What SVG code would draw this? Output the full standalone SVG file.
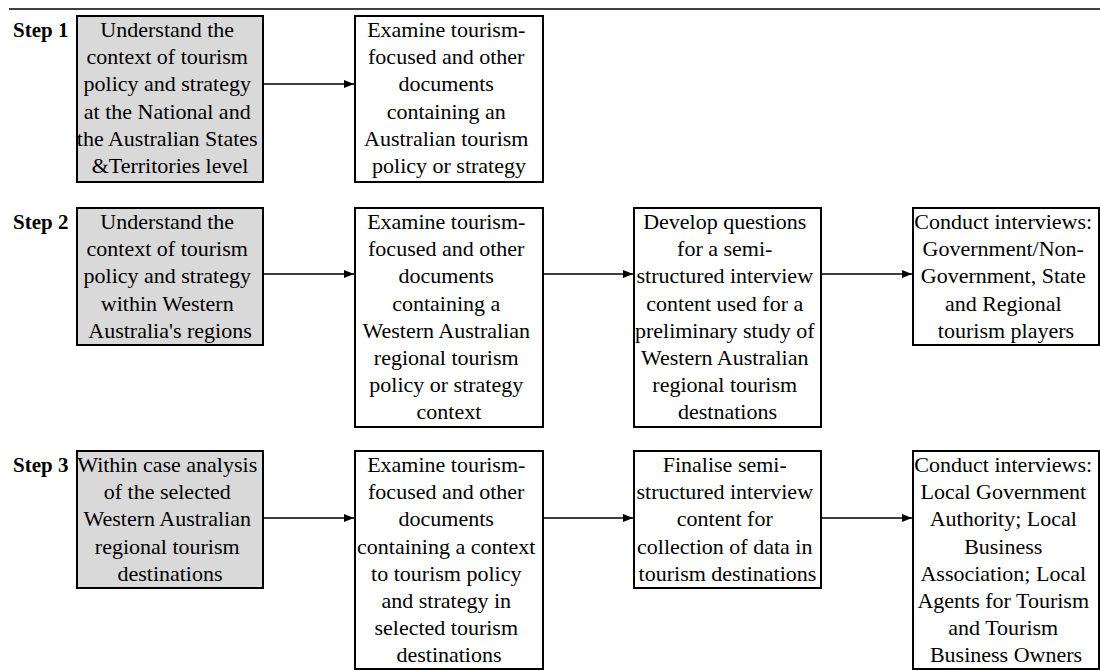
<svg xmlns="http://www.w3.org/2000/svg" width="1100" height="671" viewBox="0 0 1100 671">
  <style>
    .box { fill: #ffffff; stroke: #000000; stroke-width: 2; }
    .shade { fill: #d9d9d9; }
    .txt { font-family: "Liberation Serif", "Times New Roman", serif; font-size: 22px; fill: #000000; text-anchor: middle; }
    .step { font-family: "Liberation Serif", "Times New Roman", serif; font-size: 21px; font-weight: bold; fill: #000000; }
    .conn { stroke: #000000; stroke-width: 1.6; fill: none; marker-end: url(#arrow); }
  </style>
  <defs>
    <marker id="arrow" viewBox="0 0 10 8" refX="10" refY="4" markerWidth="10" markerHeight="8" markerUnits="userSpaceOnUse" orient="auto">
      <path d="M0,0 L10,4 L0,8 Z" fill="#000000"/>
    </marker>
  </defs>
  <rect width="1100" height="671" fill="#ffffff"/>

  <!-- top rule -->
  <line x1="9" y1="9" x2="1100" y2="9" stroke="#000000" stroke-width="1.6"/>

  <!-- step labels -->
  <text class="step" x="13" y="37">Step 1</text>
  <text class="step" x="13" y="229">Step 2</text>
  <text class="step" x="13" y="472">Step 3</text>

  <!-- connectors -->
  <g id="connectors">
    <line class="conn" x1="263" y1="84" x2="354" y2="84"/>
    <line class="conn" x1="263" y1="274" x2="354" y2="274"/>
    <line class="conn" x1="543" y1="274" x2="633" y2="274"/>
    <line class="conn" x1="821" y1="274" x2="912" y2="274"/>
    <line class="conn" x1="263" y1="518" x2="354" y2="518"/>
    <line class="conn" x1="543" y1="518" x2="633" y2="518"/>
    <line class="conn" x1="821" y1="518" x2="912" y2="518"/>
  </g>

  <!-- Step 1 -->
  <g id="s1-context">
    <rect class="box shade" x="77" y="16" width="186" height="166"/>
    <text class="txt" x="170" y="37">
      <tspan x="170">Understand the</tspan>
      <tspan x="170" dy="27.2">context of tourism</tspan>
      <tspan x="170" dy="27.2">policy and strategy</tspan>
      <tspan x="170" dy="27.2">at the National and</tspan>
      <tspan x="170" dy="27.2">the Australian States</tspan>
      <tspan x="170" dy="27.2">&amp;Territories level</tspan>
    </text>
  </g>
  <g id="s1-documents">
    <rect class="box" x="355" y="16" width="188" height="166"/>
    <text class="txt" x="449" y="37">
      <tspan x="449">Examine tourism-</tspan>
      <tspan x="449" dy="27.2">focused and other</tspan>
      <tspan x="449" dy="27.2">documents</tspan>
      <tspan x="449" dy="27.2">containing an</tspan>
      <tspan x="449" dy="27.2">Australian tourism</tspan>
      <tspan x="449" dy="27.2">policy or strategy</tspan>
    </text>
  </g>

  <!-- Step 2 -->
  <g id="s2-context">
    <rect class="box shade" x="77" y="208" width="186" height="137"/>
    <text class="txt" x="170" y="229">
      <tspan x="170">Understand the</tspan>
      <tspan x="170" dy="27.2">context of tourism</tspan>
      <tspan x="170" dy="27.2">policy and strategy</tspan>
      <tspan x="170" dy="27.2">within Western</tspan>
      <tspan x="170" dy="27.2">Australia's regions</tspan>
    </text>
  </g>
  <g id="s2-documents">
    <rect class="box" x="355" y="208" width="188" height="219"/>
    <text class="txt" x="449" y="229">
      <tspan x="449">Examine tourism-</tspan>
      <tspan x="449" dy="27.2">focused and other</tspan>
      <tspan x="449" dy="27.2">documents</tspan>
      <tspan x="449" dy="27.2">containing a</tspan>
      <tspan x="449" dy="27.2">Western Australian</tspan>
      <tspan x="449" dy="27.2">regional tourism</tspan>
      <tspan x="449" dy="27.2">policy or strategy</tspan>
      <tspan x="449" dy="27.2">context</tspan>
    </text>
  </g>
  <g id="s2-questions">
    <rect class="box" x="634" y="208" width="187" height="219"/>
    <text class="txt" x="727.5" y="229">
      <tspan x="727.5">Develop questions</tspan>
      <tspan x="727.5" dy="27.2">for a semi-</tspan>
      <tspan x="727.5" dy="27.2">structured interview</tspan>
      <tspan x="727.5" dy="27.2">content used for a</tspan>
      <tspan x="727.5" dy="27.2">preliminary study of</tspan>
      <tspan x="727.5" dy="27.2">Western Australian</tspan>
      <tspan x="727.5" dy="27.2">regional tourism</tspan>
      <tspan x="727.5" dy="27.2">destnations</tspan>
    </text>
  </g>
  <g id="s2-interviews">
    <rect class="box" x="913" y="208" width="186" height="137"/>
    <text class="txt" x="1006" y="229">
      <tspan x="1006">Conduct interviews:</tspan>
      <tspan x="1006" dy="27.2">Government/Non-</tspan>
      <tspan x="1006" dy="27.2">Government, State</tspan>
      <tspan x="1006" dy="27.2">and Regional</tspan>
      <tspan x="1006" dy="27.2">tourism players</tspan>
    </text>
  </g>

  <!-- Step 3 -->
  <g id="s3-case">
    <rect class="box shade" x="77" y="451" width="186" height="137"/>
    <text class="txt" x="170" y="472">
      <tspan x="170">Within case analysis</tspan>
      <tspan x="170" dy="27.2">of the selected</tspan>
      <tspan x="170" dy="27.2">Western Australian</tspan>
      <tspan x="170" dy="27.2">regional tourism</tspan>
      <tspan x="170" dy="27.2">destinations</tspan>
    </text>
  </g>
  <g id="s3-documents">
    <rect class="box" x="355" y="451" width="188" height="218"/>
    <text class="txt" x="449" y="472">
      <tspan x="449">Examine tourism-</tspan>
      <tspan x="449" dy="27.2">focused and other</tspan>
      <tspan x="449" dy="27.2">documents</tspan>
      <tspan x="449" dy="27.2">containing a context</tspan>
      <tspan x="449" dy="27.2">to tourism policy</tspan>
      <tspan x="449" dy="27.2">and strategy in</tspan>
      <tspan x="449" dy="27.2">selected tourism</tspan>
      <tspan x="449" dy="27.2">destinations</tspan>
    </text>
  </g>
  <g id="s3-finalise">
    <rect class="box" x="634" y="451" width="187" height="137"/>
    <text class="txt" x="727.5" y="472">
      <tspan x="727.5">Finalise semi-</tspan>
      <tspan x="727.5" dy="27.2">structured interview</tspan>
      <tspan x="727.5" dy="27.2">content for</tspan>
      <tspan x="727.5" dy="27.2">collection of data in</tspan>
      <tspan x="727.5" dy="27.2">tourism destinations</tspan>
    </text>
  </g>
  <g id="s3-interviews">
    <rect class="box" x="913" y="451" width="186" height="218"/>
    <text class="txt" x="1006" y="472">
      <tspan x="1006">Conduct interviews:</tspan>
      <tspan x="1006" dy="27.2">Local Government</tspan>
      <tspan x="1006" dy="27.2">Authority; Local</tspan>
      <tspan x="1006" dy="27.2">Business</tspan>
      <tspan x="1006" dy="27.2">Association; Local</tspan>
      <tspan x="1006" dy="27.2">Agents for Tourism</tspan>
      <tspan x="1006" dy="27.2">and Tourism</tspan>
      <tspan x="1006" dy="27.2">Business Owners</tspan>
    </text>
  </g>
</svg>
